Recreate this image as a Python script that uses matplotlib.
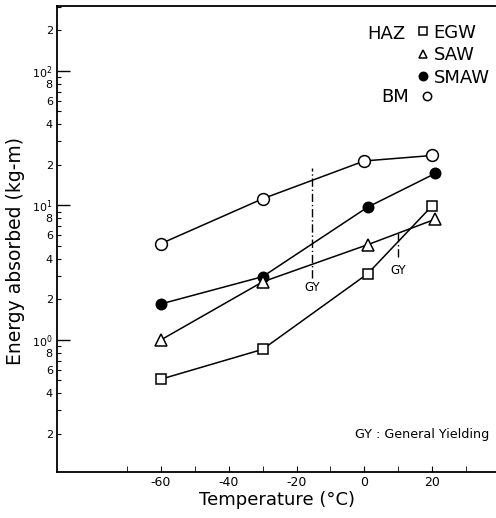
import math
import matplotlib
matplotlib.use('Agg')
import matplotlib.pyplot as plt
from matplotlib.ticker import FixedLocator, FuncFormatter, LogLocator

# data (temperature in deg C, energy in kg-m)
temp_bm = [-60, -30, 0, 20]
energy_bm = [5.2, 11.2, 21.4, 23.5]

temp_smaw = [-60, -30, 1, 21]
energy_smaw = [1.85, 2.95, 9.7, 17.3]

temp_saw = [-60, -30, 1, 21]
energy_saw = [1.0, 2.7, 5.1, 7.9]

temp_egw = [-60, -30, 1, 20]
energy_egw = [0.51, 0.85, 3.1, 9.9]

# general yielding markers
gy_temp = [-15.5, 10]
gy_low = [2.9, 4.1]
gy_high = [19, 6.3]
gy_label_energy = [2.45, 3.3]

x_ticks = [-60, -40, -20, 0, 20]

plt.rcParams['font.family'] = 'DejaVu Sans'

fig = plt.figure(figsize=(4.96, 5.18), dpi=100)
ax = fig.add_axes([0.115, 0.0888, 0.885, 0.8996])

ax.set_yscale('log')
ax.set_xlim(-90.7, 38.9)
ax.set_ylim(0.104, 304)

kw = dict(color='black', linewidth=1.1, markeredgewidth=1.1)
l_bm, = ax.plot(temp_bm, energy_bm, marker='o', markerfacecolor='white',
                markersize=8.5, **kw)
l_smaw, = ax.plot(temp_smaw, energy_smaw, marker='o', markerfacecolor='black',
                  markersize=7.5, **kw)
l_saw, = ax.plot(temp_saw, energy_saw, marker='^', markerfacecolor='white',
                 markersize=8, **kw)
l_egw, = ax.plot(temp_egw, energy_egw, marker='s', markerfacecolor='white',
                 markersize=7.5, **kw)

# general yielding lines
ax.vlines(gy_temp, gy_low, gy_high, colors='black', linewidth=1.0,
          linestyles=[(0, (6, 2, 1, 2))])
for t, e in zip(gy_temp, gy_label_energy):
    ax.text(t, e, 'GY', fontsize=8.5, ha='center', va='center')

ax.text(0.679, 0.081, 'GY : General Yielding', transform=ax.transAxes,
        fontsize=9.2, ha='left', va='center')

# legend
leg_kw = dict(frameon=False, fontsize=13, borderpad=0, handlelength=0.8,
              borderaxespad=0)
leg1 = ax.legend([l_egw, l_saw, l_smaw], ['EGW', 'SAW', 'SMAW'],
                 loc='upper left', bbox_to_anchor=(0.817, 0.962),
                 handletextpad=0.2, labelspacing=0.25, **leg_kw)
for h in leg1.legend_handles:
    h.set_linestyle('none')
    h.set_markersize(6)
ax.add_artist(leg1)
leg2 = ax.legend([l_bm], ['BM'], loc='upper left',
                 bbox_to_anchor=(0.738, 0.823), handletextpad=0.6,
                 markerfirst=False, **leg_kw)
for h in leg2.legend_handles:
    h.set_linestyle('none')
    h.set_markersize(6)
ax.text(0.706, 0.941, 'HAZ', transform=ax.transAxes, fontsize=13,
        ha='left', va='center')

# axis ticks
ax.xaxis.set_major_locator(FixedLocator(x_ticks))
ax.xaxis.set_minor_locator(FixedLocator([-70, -50, -30, -10, 10, 30]))
ax.set_xticklabels([str(t) for t in x_ticks])


def major_fmt(v, pos):
    return r'$10^{%d}$' % int(round(math.log10(v)))


def minor_fmt(v, pos):
    m = int(round(v / 10 ** math.floor(math.log10(v) + 1e-9)))
    return str(m) if m in (2, 4, 6, 8) else ''


ax.yaxis.set_major_locator(LogLocator(base=10, numticks=10))
ax.yaxis.set_major_formatter(FuncFormatter(major_fmt))
ax.yaxis.set_minor_locator(LogLocator(base=10, subs=range(2, 10), numticks=20))
ax.yaxis.set_minor_formatter(FuncFormatter(minor_fmt))

ax.tick_params(which='both', direction='in', pad=3)
ax.tick_params(axis='x', which='both', length=4, labelsize=9)
ax.tick_params(axis='y', which='both', labelsize=8)
ax.tick_params(axis='y', which='major', length=9, width=1.0)
ax.tick_params(axis='y', which='minor', length=3, width=0.8)
ax.tick_params(top=False, right=False)

ax.spines['right'].set_visible(False)
for s in ['left', 'top', 'bottom']:
    ax.spines[s].set_linewidth(1.3)

ax.set_xlabel('Temperature (°C)', fontsize=13, labelpad=1)
ax.set_ylabel('Energy absorbed (kg-m)', fontsize=13.5)
ax.yaxis.set_label_coords(-0.073, 0.474)

fig.savefig('out.png', dpi=100)
